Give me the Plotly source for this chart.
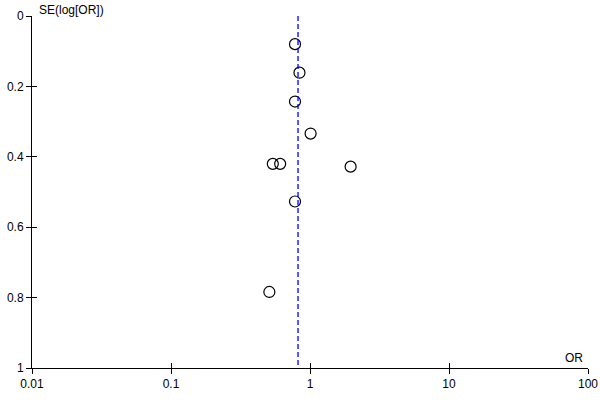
import plotly.graph_objects as go

# study odds ratios and their standard errors of log(OR)
odds_ratio = [0.78, 0.84, 0.78, 1.01, 0.54, 0.61, 1.96, 0.78, 0.51]
se_log_or = [0.080, 0.161, 0.243, 0.334, 0.420, 0.420, 0.428, 0.527, 0.784]
pooled_or = 0.82

x_ticks = [0.01, 0.1, 1, 10, 100]
x_tick_text = ["0.01", "0.1", "1", "10", "100"]
y_ticks = [0, 0.2, 0.4, 0.6, 0.8, 1]
y_tick_text = ["0", "0.2", "0.4", "0.6", "0.8", "1"]

font = dict(family="Arial, Liberation Sans, sans-serif", size=12, color="black")

fig = go.Figure()

fig.add_trace(go.Scatter(
    x=[pooled_or, pooled_or], y=[0, 1],
    mode="lines",
    line=dict(color="#0000ff", width=1.3, dash="5px,3px"),
    xaxis="x2", yaxis="y2",
    showlegend=False, hoverinfo="skip",
))

fig.add_trace(go.Scatter(
    x=odds_ratio, y=se_log_or,
    mode="markers",
    marker=dict(symbol="circle-open", size=11, color="black", line=dict(width=1.2, color="black")),
    showlegend=False,
))

axis_common = dict(
    showgrid=False, zeroline=False, showline=True,
    linecolor="black", linewidth=1,
    tickcolor="black", tickwidth=1,
    automargin=False,
)

fig.update_layout(
    width=600, height=400,
    margin=dict(l=32, r=12, t=16, b=32),
    plot_bgcolor="white", paper_bgcolor="white",
    font=font,
    xaxis=dict(
        type="log", range=[-2, 2],
        tickvals=x_ticks, ticktext=x_tick_text,
        ticks="outside", ticklen=5,
        **axis_common,
    ),
    yaxis=dict(
        range=[1, 0],
        tickvals=y_ticks, ticktext=y_tick_text,
        ticks="outside", ticklen=5,
        **axis_common,
    ),
    xaxis2=dict(
        type="log", range=[-2, 2], overlaying="x", anchor="y2",
        tickvals=x_ticks, showticklabels=False,
        ticks="inside", ticklen=5,
        **axis_common,
    ),
    yaxis2=dict(
        range=[1, 0], overlaying="y", anchor="x2",
        tickvals=y_ticks, showticklabels=False,
        ticks="inside", ticklen=5,
        **axis_common,
    ),
)

fig.add_annotation(
    text="SE(log[OR])", xref="paper", yref="paper",
    x=0, y=1, xshift=5, yshift=6, xanchor="left", yanchor="middle",
    showarrow=False, font=font,
)
fig.add_annotation(
    text="OR", xref="paper", yref="paper",
    x=1, y=0, xshift=-3, yshift=10, xanchor="right", yanchor="middle",
    showarrow=False, font=font,
)

# page body has a default 8px margin; drop it so the figure sits at the corner
fig.write_html(
    "out.html",
    config={"displayModeBar": False},
    post_script="document.body.style.margin = '0';",
)
